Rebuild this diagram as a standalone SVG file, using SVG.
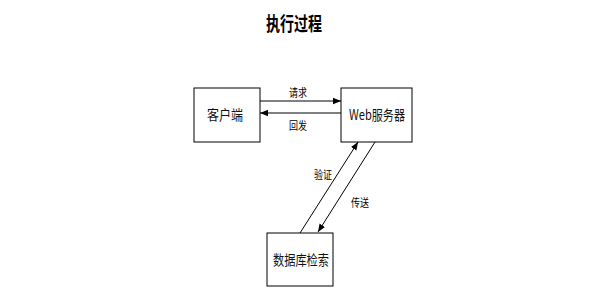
<svg xmlns="http://www.w3.org/2000/svg" width="604" height="288" viewBox="0 0 604 288">
<defs>
<style>
.box{fill:#fff;stroke:#000;stroke-width:1}
.t{font-family:"Noto Sans CJK SC",sans-serif;font-size:14px;fill:#111;text-anchor:middle}
.l{font-family:"Noto Sans CJK SC",sans-serif;font-size:11px;fill:#000;text-anchor:middle}
.c{stroke:#000;stroke-width:1;fill:none}
</style>
<marker id="ah" viewBox="0 0 10 10" refX="10" refY="5" markerWidth="8" markerHeight="8" orient="auto" markerUnits="userSpaceOnUse">
<path d="M0,1 L10,5 L0,9 Z" fill="#000"/>
</marker>
</defs>
<rect width="604" height="288" fill="#fff"/>
<text x="294" y="31" font-family="'Noto Sans CJK SC',sans-serif" font-size="19" font-weight="bold" text-anchor="middle" fill="#000" textLength="56" lengthAdjust="spacingAndGlyphs">执行过程</text>
<g id="client"><rect class="box" x="194" y="88" width="66" height="54"/><text class="t" x="225" y="120" textLength="36" lengthAdjust="spacingAndGlyphs">客户端</text></g>
<g id="web"><rect class="box" x="341" y="88" width="71" height="54"/><text class="t" x="377" y="120" fill="#223" textLength="56" lengthAdjust="spacingAndGlyphs">Web服务器</text></g>
<g id="db"><rect class="box" x="267" y="233" width="66" height="53"/><text class="t" x="301" y="265" textLength="56" lengthAdjust="spacingAndGlyphs">数据库检索</text></g>
<g id="connectors">
<line class="c" x1="260" y1="101" x2="341" y2="101" marker-end="url(#ah)"/>
<line class="c" x1="341" y1="113" x2="260" y2="113" marker-end="url(#ah)"/>
<line class="c" x1="300" y1="233" x2="358" y2="142" marker-end="url(#ah)"/>
<line class="c" x1="375" y1="142" x2="318" y2="232" marker-end="url(#ah)"/>
<text class="l" x="298" y="97" textLength="18" lengthAdjust="spacingAndGlyphs">请求</text>
<text class="l" x="298" y="130" textLength="18" lengthAdjust="spacingAndGlyphs">回发</text>
<text class="l" x="323" y="179" textLength="18" lengthAdjust="spacingAndGlyphs">验证</text>
<text class="l" x="360" y="207" textLength="18" lengthAdjust="spacingAndGlyphs">传送</text>
</g>
</svg>
